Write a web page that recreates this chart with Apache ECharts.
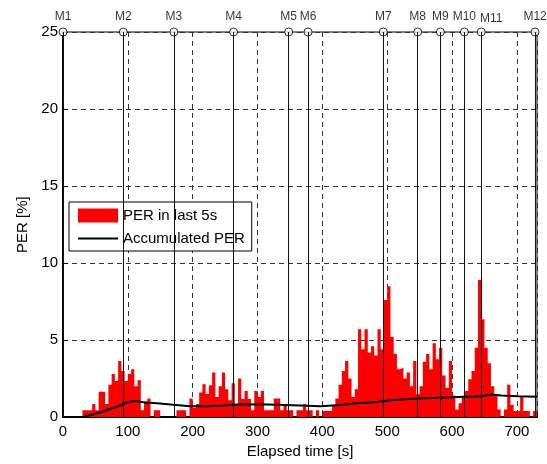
<!DOCTYPE html>
<html>
<head>
<meta charset="utf-8">
<title>PER over elapsed time</title>
<script src="https://cdn.jsdelivr.net/npm/echarts@6/dist/echarts.min.js"></script>
<style>
  html, body { margin: 0; padding: 0; background: #fff; }
  #chart { width: 547px; height: 464px; }
</style>
</head>
<body>
<div id="chart"></div>
<script>
// Packet error rate, measured in 5-second windows (bin start = index * BIN_SECONDS)
const BIN_SECONDS = 5;
const perLast5s = [
  0, 0, 0, 0, 0, 0,
  0.45, 0.45, 0.45, 0.85, 0.45, 1.65,
  1.65, 0.85, 2.1, 2.8, 2.35, 3.65,
  3.0, 2.35, 2.8, 3.1, 2.0, 2.4,
  0.45, 1.0, 1.2, 0, 0.45, 0.45,
  0, 0, 0, 0, 0, 0.45,
  0.45, 0.45, 0, 1.2, 0.6, 0.85,
  1.6, 2.14, 1.5, 2.07, 2.9, 1.3,
  2.0, 2.9, 1.8, 1.1, 2.2, 0.85,
  2.5, 1.17, 1.7, 1.17, 0.45, 1.7,
  1.3, 1.7, 0.45, 0.45, 0.45, 1.2,
  1.2, 0.45, 0.85, 0.45, 0.45, 0,
  0.45, 0.45, 0.85, 0.45, 0.45, 0,
  0.45, 0, 0.4, 0.4, 0.4, 0.73,
  1.2, 2.1, 3.0, 3.65, 2.5, 1.3,
  1.8, 5.7, 4.4, 5.7, 4.2, 4.6,
  4.0, 5.7, 4.4, 7.6, 8.5, 5.2,
  4.1, 3.1, 3.2, 2.5, 2.9, 2.0,
  3.65, 1.5, 2.0, 3.6, 4.1, 3.1,
  4.8, 3.75, 4.5, 2.7, 1.9, 3.65,
  1.4, 0.5, 0.9, 1.3, 1.7, 2.45,
  3.0, 4.5, 8.9, 6.35, 4.5, 3.5,
  2.0, 1.5, 0.5, 0, 0.5, 2.1,
  0.8, 0.4, 0.4, 1.3, 0.4, 0.4,
  0, 0.4
];

// Accumulated PER since the start of the run
const accTimes = [0, 30, 57, 83, 98, 109, 124, 145, 170, 196, 222, 248, 273, 315, 366,
                  397, 428, 454, 485, 505, 547, 583, 619, 645, 660, 676, 702, 731];
const accValues = [0, 0, 0.3, 0.67, 0.93, 1.04, 0.97, 0.9, 0.8, 0.7, 0.7, 0.76, 0.84, 0.82, 0.76,
                   0.7, 0.78, 0.9, 0.98, 1.1, 1.2, 1.26, 1.32, 1.36, 1.47, 1.4, 1.36, 1.32];

// Event markers along the run
const markerNames = ['M1', 'M2', 'M3', 'M4', 'M5', 'M6', 'M7', 'M8', 'M9', 'M10', 'M11', 'M12'];
const markerTimes = [0, 93, 171, 263, 348, 378, 494, 547, 582, 619, 645, 728];

// Axis ranges and ticks
const xMax = 731;
const xTickStep = 100;
const yMax = 25;
const yTickStep = 5;

const FONT = "'Liberation Sans', Arial, Helvetica, sans-serif";

// Step-area points: each bin value holds from its start to the next bin
const stepData = perLast5s.map((v, i) => [i * BIN_SECONDS, v]);
stepData.push([xMax, perLast5s[perLast5s.length - 1]]);

const accData = accTimes.map((t, i) => [t, accValues[i]]);

const markerData = markerTimes.map((t, i) => {
  const item = { name: markerNames[i], value: [t, yMax] };
  if (markerNames[i] === 'M11') {
    item.label = { offset: [10, 2] };
  }
  return item;
});

const chart = echarts.init(document.getElementById('chart'), null, { renderer: 'canvas' });

chart.setOption({
  animation: false,
  backgroundColor: '#fff',
  textStyle: { fontFamily: FONT, color: '#000' },
  grid: {
    left: 63, right: 10, top: 32, bottom: 46,
    show: true, borderColor: '#000', borderWidth: 1, backgroundColor: 'transparent'
  },
  legend: {
    orient: 'vertical',
    left: 69, top: 202,
    backgroundColor: '#fff',
    borderColor: '#000', borderWidth: 1, borderRadius: 0,
    padding: [6, 7, 5, 8],
    itemGap: 8, itemWidth: 40, itemHeight: 14,
    textStyle: { fontSize: 15, color: '#000', fontFamily: FONT },
    data: [
      { name: 'PER in last 5s', icon: 'rect', itemStyle: { color: '#ff0000', borderWidth: 0 } },
      {
        name: 'Accumulated PER',
        itemStyle: { color: 'transparent', borderColor: 'transparent', borderWidth: 0, opacity: 0 },
        lineStyle: { color: '#000', width: 2 }
      }
    ]
  },
  xAxis: {
    type: 'value',
    min: 0, max: xMax, interval: xTickStep,
    name: 'Elapsed time [s]',
    nameLocation: 'middle', nameGap: 26,
    nameTextStyle: { fontSize: 15, color: '#000', fontFamily: FONT },
    axisLine: { show: true, onZero: false, lineStyle: { color: '#000', width: 2 } },
    axisTick: { show: true, inside: true, length: 5, lineStyle: { color: '#000' } },
    axisLabel: {
      fontSize: 15, color: '#000', fontFamily: FONT, margin: 7,
      formatter: v => (v % xTickStep === 0 ? String(v) : '')
    },
    splitLine: { show: true, lineStyle: { color: '#333', type: [5, 4], width: 1 } }
  },
  yAxis: {
    type: 'value',
    min: 0, max: yMax, interval: yTickStep,
    name: 'PER [%]',
    nameLocation: 'middle', nameGap: 33,
    nameTextStyle: { fontSize: 15, color: '#000', fontFamily: FONT },
    axisLine: { show: true, lineStyle: { color: '#000', width: 2 } },
    axisTick: { show: true, inside: true, length: 5, lineStyle: { color: '#000' } },
    axisLabel: { fontSize: 15, color: '#000', fontFamily: FONT, margin: 5 },
    splitLine: { show: true, lineStyle: { color: '#333', type: [5, 4], width: 1 } }
  },
  series: [
    {
      name: 'PER in last 5s',
      type: 'line',
      step: 'end',
      data: stepData,
      symbol: 'none',
      itemStyle: { color: '#ff0000' },
      lineStyle: { width: 0, color: '#ff0000' },
      areaStyle: { color: '#ff0000', opacity: 1 },
      z: 2
    },
    {
      name: 'markers',
      type: 'scatter',
      data: markerData,
      symbol: 'circle',
      symbolSize: 8,
      clip: false,
      itemStyle: { color: '#fff', borderColor: '#000', borderWidth: 1 },
      label: {
        show: true, position: 'top', distance: 5,
        formatter: '{b}', fontSize: 12, color: '#000', fontFamily: FONT
      },
      markLine: {
        silent: true,
        symbol: ['none', 'none'],
        label: { show: false },
        lineStyle: { color: '#111', type: 'solid', width: 1 },
        data: markerTimes.map(t => ({ xAxis: t }))
      },
      z: 4
    },
    {
      name: 'Accumulated PER',
      type: 'line',
      data: accData,
      symbol: 'none',
      itemStyle: { color: '#000' },
      lineStyle: { color: '#000', width: 2 },
      z: 5
    }
  ]
});
</script>
</body>
</html>
